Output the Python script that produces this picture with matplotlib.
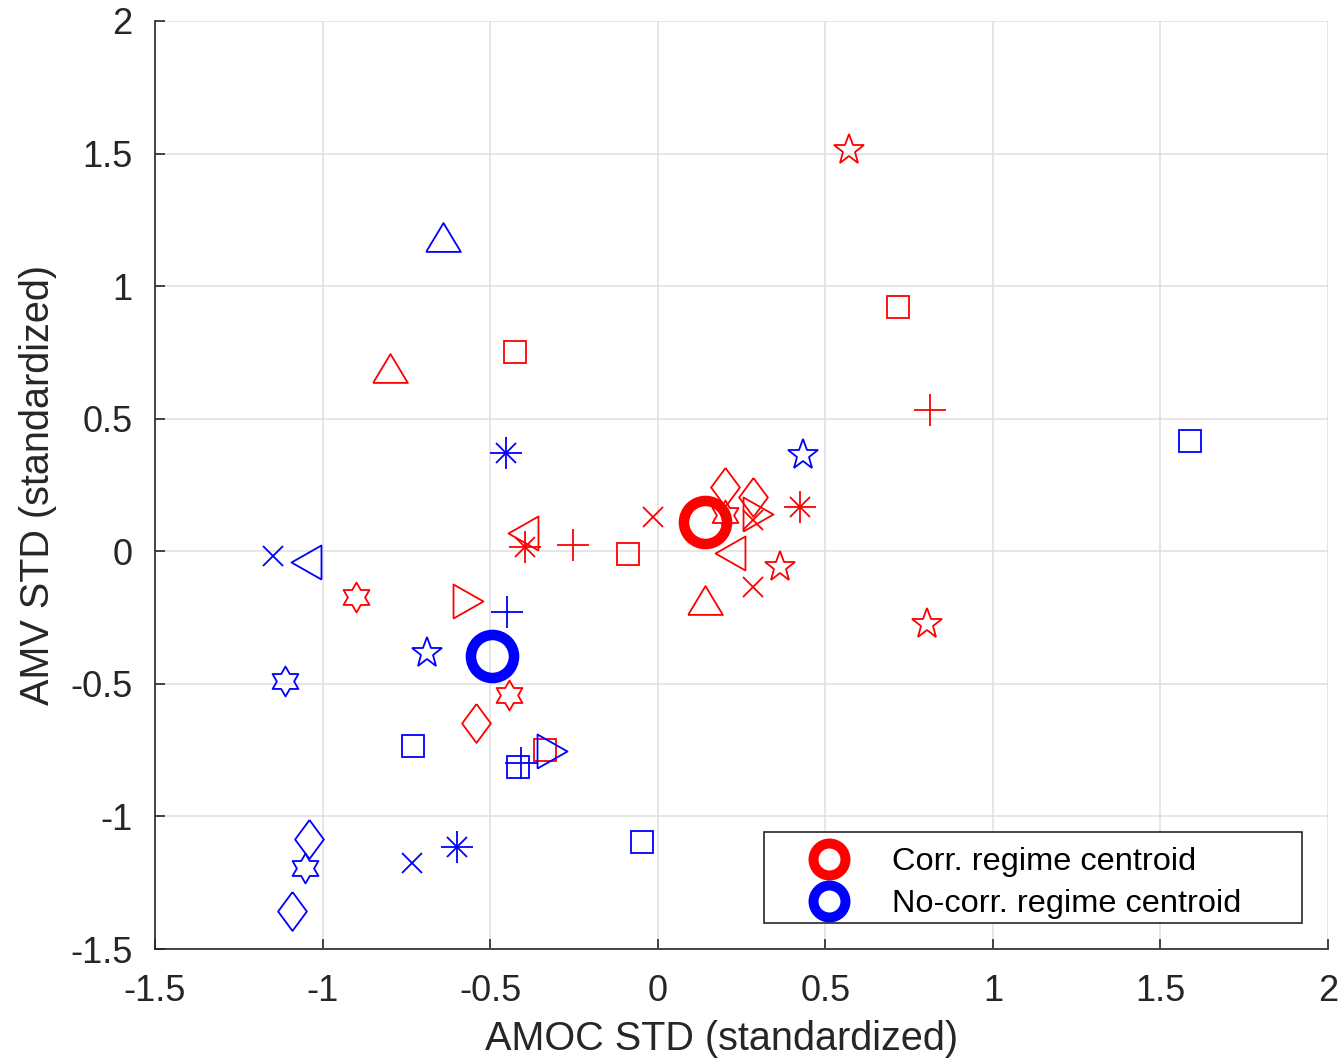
import numpy as np
import matplotlib.pyplot as plt
from matplotlib.path import Path
from matplotlib.lines import Line2D
from matplotlib.patches import Rectangle

plt.rcParams['font.family'] = ['Liberation Sans', 'DejaVu Sans']
plt.rcParams['axes.unicode_minus'] = False

# members of the correlated regime (red); symbol codes are MATLAB style
corr_sym = ['p', 's', '+', 's', '^', '*', 'd', 'd', '>', 'x', 'h', 'x', '<',
            'p', 'x', '^', 's', '+', '<', '*', 'p', 'h', '>', 'h', 'd', 's']
corr_x = [0.571, 0.717, 0.813, -0.425, -0.799, 0.425, 0.201, 0.285, 0.300, 0.285, 0.201, -0.014, 0.216,
          0.365, 0.285, 0.140, -0.089, -0.253, -0.402, -0.396, 0.804, -0.900, -0.566, -0.443, -0.542, -0.336]
corr_y = [1.512, 0.920, 0.532, 0.751, 0.690, 0.167, 0.243, 0.204, 0.139, 0.118, 0.135, 0.129, -0.007,
          -0.059, -0.134, -0.184, -0.010, 0.024, 0.069, 0.016, -0.274, -0.172, -0.188, -0.542, -0.646, -0.750]

# members of the non-correlated regime (blue)
nocorr_sym = ['^', '*', 'p', 's', 'x', '<', '+', 'p', 'h', 's', 's', '+', '>',
              's', '*', 'x', 'd', 'h', 'd']
nocorr_x = [-0.640, -0.453, 0.434, 1.589, -1.148, -1.049, -0.449, -0.688, -1.112, -0.730, -0.418, -0.409, -0.316,
            -0.047, -0.599, -0.733, -1.040, -1.052, -1.091]
nocorr_y = [1.185, 0.371, 0.365, 0.415, -0.018, -0.040, -0.229, -0.385, -0.488, -0.733, -0.813, -0.798, -0.753,
            -1.096, -1.115, -1.175, -1.085, -1.194, -1.356]

# regime centroids
centroid_x = [0.141, -0.495]
centroid_y = [0.111, -0.395]
centroid_labels = ['Corr. regime centroid', 'No-corr. regime centroid']
centroid_colors = ['red', 'blue']

hexagram = Path.unit_regular_star(6, 0.577)
diamond = [(0, 1), (0.74, 0), (0, -1), (-0.74, 0), (0, 1)]
tri_up = [(-1, -0.83), (1, -0.83), (0, 0.83), (-1, -0.83)]
tri_right = [(-0.88, -1), (-0.88, 1), (0.88, 0), (-0.88, -1)]
tri_left = [(0.88, -1), (0.88, 1), (-0.88, 0), (0.88, -1)]

MARKERS = {
    'p': [('*', 23)],
    'h': [(hexagram, 21.5)],
    's': [('s', 16)],
    'd': [(diamond, 28)],
    '^': [(tri_up, 25)],
    '>': [(tri_right, 24.5)],
    '<': [(tri_left, 24.5)],
    '+': [('+', 23.5)],
    'x': [('x', 15)],
    '*': [('+', 23), ('x', 15)],
}


def draw_members(ax, xs, ys, syms, color):
    for x, y, s in zip(xs, ys, syms):
        for m, ms in MARKERS[s]:
            ax.plot(x, y, linestyle='none', marker=m, markersize=ms,
                    markerfacecolor='none', markeredgecolor=color,
                    markeredgewidth=1.3)


fig = plt.figure(figsize=(13.43, 10.6), dpi=100)
ax = fig.add_axes([0.1154, 0.1047, 0.8734, 0.8755])

draw_members(ax, corr_x, corr_y, corr_sym, 'red')
draw_members(ax, nocorr_x, nocorr_y, nocorr_sym, 'blue')

for cx, cy, c in zip(centroid_x, centroid_y, centroid_colors):
    ax.plot(cx, cy, linestyle='none', marker='o', markersize=31,
            markerfacecolor='none', markeredgecolor=c, markeredgewidth=7.6)

ax.set_xlim(-1.5, 2)
ax.set_ylim(-1.5, 2)
ticks = np.arange(-1.5, 2.01, 0.5)
ax.set_xticks(ticks)
ax.set_yticks(ticks)
fmt = lambda v: f'{v:g}'
ax.set_xticklabels([fmt(t) for t in ticks])
ax.set_yticklabels([fmt(t) for t in ticks])

ax.grid(True, color='#dfdfdf', linewidth=1.1)
ax.set_axisbelow(True)
for side in ['top', 'right']:
    ax.spines[side].set_visible(False)
for side in ['left', 'bottom']:
    ax.spines[side].set_color('#262626')
    ax.spines[side].set_linewidth(1.2)
ax.tick_params(direction='in', length=7, width=1.2, color='#262626',
               labelsize=26, labelcolor='#262626')
ax.tick_params(axis='y', pad=16)
ax.tick_params(axis='x', pad=18)

ax.set_xlabel('AMOC STD (standardized)', fontsize=28.5, color='#262626')
ax.set_ylabel('AMV STD (standardized)', fontsize=28.5, color='#262626')
ax.xaxis.set_label_coords(0.483, -0.077)
ax.yaxis.set_label_coords(-0.0835, 0.5)

# legend box drawn by hand so that its padding matches the original
box_x0, box_x1 = 0.5192, 0.9778
box_y0, box_y1 = 0.0280, 0.1261
ax.add_patch(Rectangle((box_x0, box_y0), box_x1 - box_x0, box_y1 - box_y0,
                       transform=ax.transAxes, facecolor='white',
                       edgecolor='#262626', linewidth=1.2, zorder=5))

handles = [Line2D([], [], linestyle='none', marker='o', markersize=23,
                  markerfacecolor='none', markeredgecolor=c, markeredgewidth=7.2)
           for c in centroid_colors]
leg = ax.legend(handles, centroid_labels, loc='center left',
                bbox_to_anchor=(0.5448, 0.0708), borderaxespad=0,
                fontsize=23.4, frameon=False, handlelength=2.15, handletextpad=0.86,
                labelspacing=0.36, borderpad=0)
leg.set_zorder(6)
for t in leg.get_texts():
    t.set_color('black')

fig.savefig('out.png', dpi=100, facecolor='white')
